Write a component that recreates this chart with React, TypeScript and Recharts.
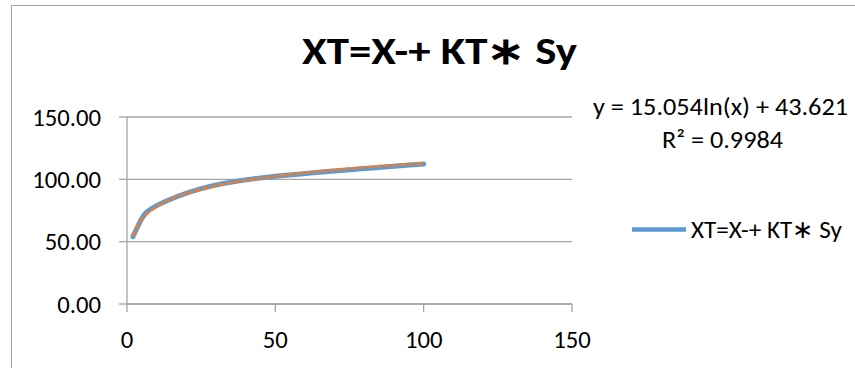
import React from 'react';
import { ComposedChart, Line, XAxis, YAxis, CartesianGrid } from 'recharts';

const returnPeriods = [2, 5, 10, 25, 50, 100];
const xtValues = [54.0, 68.5, 78.9, 92.5, 102.4, 112.3];
const trendX = [2, 3, 4, 5, 7, 10, 15, 20, 25, 35, 50, 75, 100];
const trendY = [54.1, 60.2, 64.5, 67.9, 72.9, 78.3, 84.4, 88.7, 92.1, 97.1, 102.5, 108.6, 112.9];
const xTicks = [0, 50, 100, 150];
const yTicks = [0, 50, 100, 150];
const titleText = 'XT=X-+ KT∗ Sy';
const seriesName = 'XT=X-+ KT∗ Sy';
const equationText = 'y = 15.054ln(x) + 43.621';
const r2Text = 'R² = 0.9984';

const seriesData = returnPeriods.map((t, i) => ({ t, xt: xtValues[i] }));
const trendData = trendX.map((t, i) => ({ t, trend: trendY[i] }));

const FONT = 'Carlito, Calibri, Lato, sans-serif';
const AXIS = '#A6A6A6';
const BLUE = '#5B9BD5';
const ORANGE = '#ED7D31';
const FS = 24.7;

const tickStyle = { fill: '#000', fontSize: FS, fontFamily: FONT };

export default function App() {
  return (
    <div style={{ position: 'absolute', left: 0, top: 0, width: 855, height: 368, overflow: 'hidden', background: '#fff' }}>
      <div style={{ position: 'absolute', left: 11, top: 5, width: 900, height: 420, border: `1px solid ${AXIS}`, boxSizing: 'border-box' }} />
      <div style={{ position: 'absolute', left: 0, top: 0 }}>
        <ComposedChart width={855} height={368} margin={{ top: 117, right: 283, bottom: 0, left: 0 }}>
          <CartesianGrid vertical={false} stroke={AXIS} strokeWidth={1.3} />
          <XAxis
            type="number"
            dataKey="t"
            domain={[0, 150]}
            ticks={xTicks}
            height={64}
            tickSize={8}
            tickMargin={18}
            axisLine={{ stroke: AXIS, strokeWidth: 1.3 }}
            tickLine={{ stroke: AXIS, strokeWidth: 1.3 }}
            tick={tickStyle}
            interval={0}
          />
          <YAxis
            type="number"
            domain={[0, 150]}
            ticks={yTicks}
            width={127}
            tickSize={8}
            tickMargin={18}
            axisLine={{ stroke: AXIS, strokeWidth: 1.3 }}
            tickLine={{ stroke: AXIS, strokeWidth: 1.3 }}
            tick={tickStyle}
            tickFormatter={(v: number) => v.toFixed(2)}
            interval={0}
          />
          <Line
            data={seriesData}
            type="natural"
            dataKey="xt"
            name={seriesName}
            stroke={BLUE}
            strokeWidth={5}
            dot={false}
            isAnimationActive={false}
            strokeLinecap="round"
          />
          <Line
            data={trendData}
            type="monotone"
            dataKey="trend"
            name="trend"
            stroke={ORANGE}
            strokeWidth={2.8}
            strokeDasharray="6 2"
            dot={false}
            isAnimationActive={false}
          />
        </ComposedChart>
      </div>
      <svg width={855} height={368} style={{ position: 'absolute', left: 0, top: 0, pointerEvents: 'none' }}>
        <text x={302} y={64.3} textAnchor="start" fontFamily={FONT} fontWeight="bold" fontSize={38} fill="#000" textLength={275} lengthAdjust="spacingAndGlyphs">
          {titleText}
        </text>
        <text x={593} y={115} textAnchor="start" fontFamily={FONT} fontSize={FS} fill="#000" textLength={255} lengthAdjust="spacingAndGlyphs">
          {equationText}
        </text>
        <text x={662} y={148.3} textAnchor="start" fontFamily={FONT} fontSize={FS} fill="#000" textLength={121} lengthAdjust="spacingAndGlyphs">
          {r2Text}
        </text>
        <line x1={632} y1={229.5} x2={686} y2={229.5} stroke={BLUE} strokeWidth={4.5} />
        <text x={691} y={238.3} textAnchor="start" fontFamily={FONT} fontSize={FS} fill="#000" textLength={151} lengthAdjust="spacingAndGlyphs">
          {seriesName}
        </text>
      </svg>
    </div>
  );
}
